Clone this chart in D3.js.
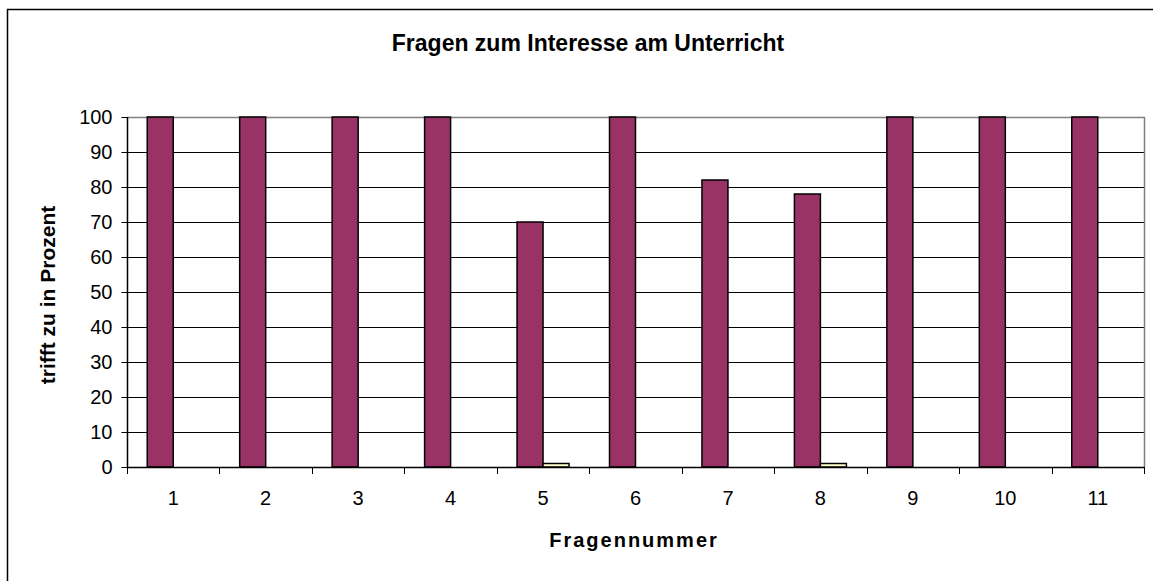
<!DOCTYPE html>
<html>
<head>
<meta charset="utf-8">
<script src="https://cdn.jsdelivr.net/npm/d3@7"></script>
<style>
  body { margin: 0; background: #fff; }
  svg { display: block; font-family: Arial, "Liberation Sans", sans-serif; }
</style>
</head>
<body>
<div id="chart"></div>
<script>
// chart data
var categories = ['1','2','3','4','5','6','7','8','9','10','11'];
var trifftZu = [100,100,100,100,70,100,82,78,100,100,100];
var trifftNicht = [0,0,0,0,1,0,0,1,0,0,0];
var yTicks = [0,10,20,30,40,50,60,70,80,90,100];
var titleText = 'Fragen zum Interesse am Unterricht';
var xLabel = 'Fragennummer';
var yLabel = 'trifft zu in Prozent';

var width = 1153, height = 581;
var plot = {left:127, right:1144, top:117, bottom:467};

var svg = d3.select('#chart').append('svg').attr('width',width).attr('height',height);

//outer frame (only left and top are in the picture)
svg.append('rect').attr('x',7.5).attr('y',9.5).attr('width',1200).attr('height',700)
  .attr('fill','#fff').attr('stroke','#000').attr('stroke-width',1.5);

var x = d3.scaleBand().domain(categories).range([plot.left,plot.right]);
var y = d3.scaleLinear().domain([0,100]).range([plot.bottom,plot.top]);
var barW = 26;

//gridlines
svg.append('g').selectAll('line').data(yTicks.filter(function(d){return d>0 && d<100;}))
  .enter().append('line')
  .attr('x1',plot.left).attr('x2',plot.right)
  .attr('y1',function(d){return Math.round(y(d))+0.5;}).attr('y2',function(d){return Math.round(y(d))+0.5;})
  .attr('stroke','#000').attr('stroke-width',1);

//plot border top/right (gray)
svg.append('path')
  .attr('d','M'+plot.left+','+(plot.top+0.5)+'H'+(plot.right+0.5)+'V'+plot.bottom)
  .attr('fill','none').attr('stroke','#808080').attr('stroke-width',1.5);

//bars series 1
svg.append('g').selectAll('rect').data(trifftZu).enter().append('rect')
  .attr('x',function(d,i){return x(categories[i])+x.bandwidth()/2-barW;})
  .attr('y',function(d){return y(d);})
  .attr('width',barW)
  .attr('height',function(d){return y(0)-y(d);})
  .attr('fill','#993366').attr('stroke','#000').attr('stroke-width',1.5);

//bars series 2 (zero values are not drawn)
var s2 = trifftNicht.map(function(v,i){return {cat:categories[i],v:v};}).filter(function(d){return d.v>0;});
svg.append('g').selectAll('rect').data(s2).enter().append('rect')
  .attr('x',function(d){return x(d.cat)+x.bandwidth()/2;})
  .attr('y',function(d){return y(d.v);})
  .attr('width',barW)
  .attr('height',function(d){return y(0)-y(d.v);})
  .attr('fill','#ffffcc').attr('stroke','#000').attr('stroke-width',1.5);

//y axis
var yAxis = d3.axisLeft(y).tickValues(yTicks).tickSize(6).tickPadding(9);
var gy = svg.append('g').attr('transform','translate('+(plot.left+0.5)+',0)').call(yAxis);
gy.select('.domain').attr('stroke','#000').attr('stroke-width',1.5).attr('d','M0,'+plot.top+'V'+plot.bottom);
gy.selectAll('text').attr('font-size',20).attr('fill','#000').attr('font-family','Arial, "Liberation Sans", sans-serif');

//x axis: ticks between categories
svg.append('line').attr('x1',plot.left).attr('x2',plot.right+0.5)
  .attr('y1',plot.bottom+0.5).attr('y2',plot.bottom+0.5).attr('stroke','#000').attr('stroke-width',1.5);
var bounds = categories.map(function(c){return x(c);}).concat([plot.right]);
svg.append('g').selectAll('line').data(bounds).enter().append('line')
  .attr('x1',function(d){return Math.round(d)+0.5;}).attr('x2',function(d){return Math.round(d)+0.5;})
  .attr('y1',plot.bottom).attr('y2',plot.bottom+7).attr('stroke','#000');
svg.append('g').selectAll('text').data(categories).enter().append('text')
  .attr('x',function(d){return x(d)+x.bandwidth()/2;}).attr('y',505)
  .attr('text-anchor','middle').attr('font-size',20).text(function(d){return d;});

//titles
svg.append('text').attr('x',588).attr('y',51).attr('text-anchor','middle')
  .attr('font-size',23).attr('font-weight','bold').text(titleText);
svg.append('text').attr('x',634).attr('y',547).attr('text-anchor','middle')
  .attr('font-size',20).attr('font-weight','bold').attr('letter-spacing',2).text(xLabel);
svg.append('text').attr('transform','translate(55,295) rotate(-90)').attr('text-anchor','middle')
  .attr('font-size',21).attr('font-weight','bold').text(yLabel);
</script>
</body>
</html>
